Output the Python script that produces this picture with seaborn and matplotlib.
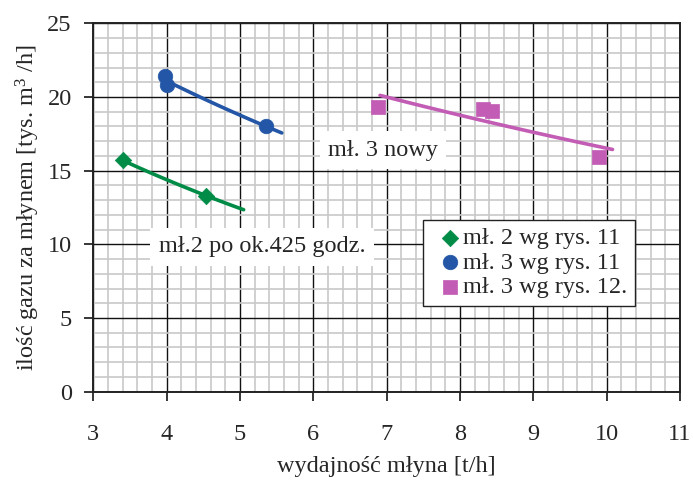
import numpy as np
import pandas as pd
import matplotlib
matplotlib.use("Agg")
import matplotlib.pyplot as plt
import seaborn as sns
from matplotlib.ticker import MultipleLocator

# Mill throughput [t/h] vs. gas flow behind the mill [thousand m3/h]
m2_x = [3.40, 4.54]
m2_y = [15.7, 13.3]
m3_x = [3.98, 4.01, 5.36]
m3_y = [21.4, 20.8, 18.0]
m3new_x = [6.88, 8.31, 8.43, 9.89]
m3new_y = [19.3, 19.2, 19.05, 15.95]

# x-extent over which each exponential trendline is drawn
m2_trend_span = [3.40, 5.05]
m3_trend_span = [3.98, 5.57]
m3new_trend_span = [6.91, 10.08]

labels = ["mł. 2 wg rys. 11", "mł. 3 wg rys. 11", "mł. 3 wg rys. 12."]
colors = ["#008c46", "#2356a6", "#c25cb4"]
markers = ["D", "o", "s"]
marker_area = [70, 110, 100]

x_ticks = [3, 4, 5, 6, 7, 8, 9, 10, 11]
y_ticks = [0, 5, 10, 15, 20, 25]

sns.set_style("ticks")
plt.rcParams["font.family"] = ["Liberation Serif", "DejaVu Serif"]
plt.rcParams["mathtext.default"] = "regular"
FS = 17.5

points = pd.concat([
    pd.DataFrame({"x": m2_x, "y": m2_y, "series": labels[0]}),
    pd.DataFrame({"x": m3_x, "y": m3_y, "series": labels[1]}),
    pd.DataFrame({"x": m3new_x, "y": m3new_y, "series": labels[2]}),
], ignore_index=True)

# exponential trendlines fitted to each series
trend_parts = []
for lab, span in zip(labels, [m2_trend_span, m3_trend_span, m3new_trend_span]):
    sub = points[points["series"] == lab]
    coef = np.polyfit(sub["x"], np.log(sub["y"]), 1)
    xs = np.linspace(span[0], span[1], 60)
    trend_parts.append(pd.DataFrame({"x": xs, "y": np.exp(np.polyval(coef, xs)), "series": lab}))
trend = pd.concat(trend_parts, ignore_index=True)

fig = plt.figure(figsize=(6.93, 4.88), dpi=100)
ax = fig.add_axes([93.3 / 693, 1 - 391.7 / 488, (680 - 93.3) / 693, (391.7 - 23.3) / 488])

sns.lineplot(data=trend, x="x", y="y", hue="series", palette=dict(zip(labels, colors)),
             lw=2.6, legend=False, ax=ax, zorder=3, sort=False)

for lab, col, mk, s in zip(labels, colors, markers, marker_area):
    sub = points[points["series"] == lab]
    sns.scatterplot(data=sub, x="x", y="y", color=col, marker=mk, s=s,
                    edgecolor=col, linewidth=0.5, label=lab, ax=ax, zorder=4)

ax.set_xlim(x_ticks[0], x_ticks[-1])
ax.set_ylim(y_ticks[0], y_ticks[-1])
ax.set_xticks(x_ticks)
ax.set_yticks(y_ticks)
ax.xaxis.set_minor_locator(MultipleLocator(0.2))
ax.yaxis.set_minor_locator(MultipleLocator(1))
ax.set_axisbelow(True)
ax.grid(which="minor", color="#c8c8c8", lw=1.2)
ax.grid(which="major", color="#111111", lw=1.0)
ax.tick_params(which="major", direction="out", length=6.5, width=1.1, color="black",
               labelsize=FS)
ax.tick_params(axis="x", which="major", pad=17)
ax.tick_params(axis="y", which="major", pad=9)
ax.tick_params(which="minor", length=0)
for sp in ax.spines.values():
    sp.set_color("#222222")
    sp.set_linewidth(1.4)

ax.set_xlabel("wydajność młyna [t/h]", fontsize=FS, labelpad=8)
ax.set_ylabel("ilość gazu za młynem [tys. m$^{3}$ /h]", fontsize=FS, labelpad=4)

box = dict(boxstyle="square,pad=0.35", fc="white", ec="none")
ax.text(6.95, 16.4, "mł. 3 nowy", fontsize=FS, ha="center", va="center", bbox=box, zorder=2.5)
ax.text(5.30, 9.85, "mł.2 po ok.425 godz.", fontsize=FS, ha="center", va="center", bbox=box, zorder=2.5)

leg = ax.legend(loc="upper left", bbox_to_anchor=(0.562, 0.466), fontsize=FS,
                frameon=True, fancybox=False, framealpha=1, edgecolor="#222222",
                handlelength=1.6, handletextpad=-0.25, labelspacing=0.1,
                borderpad=0.3, borderaxespad=0)
leg.get_frame().set_linewidth(1.0)
leg.set_zorder(5)

fig.savefig("out.png", dpi=100)
